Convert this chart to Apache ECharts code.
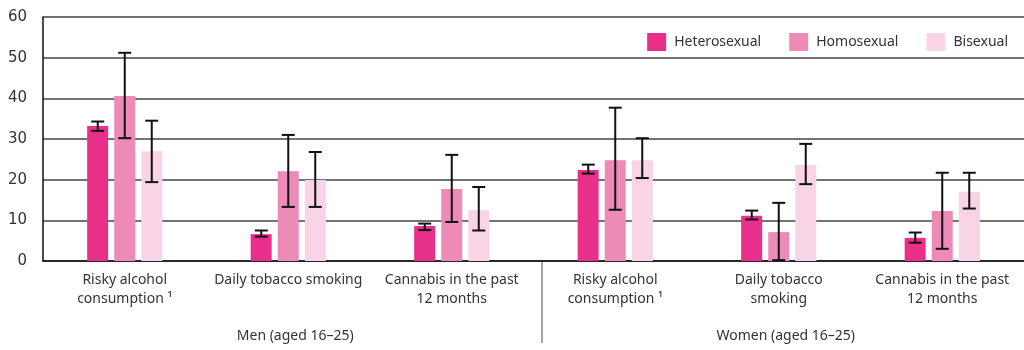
<!DOCTYPE html>
<html>
<head>
<meta charset="utf-8">
<script src="https://cdn.jsdelivr.net/npm/echarts@6/dist/echarts.min.js"></script>
<style>
  html, body { margin: 0; padding: 0; background: #fff; }
  #chart { width: 1024px; height: 350px; }
</style>
</head>
<body>
<div id="chart"></div>
<script>
const categories = ['Risky alcohol\nconsumption \u00b9', 'Daily tobacco smoking', 'Cannabis in the past\n12 months',
  'Risky alcohol\nconsumption \u00b9', 'Daily tobacco\nsmoking', 'Cannabis in the past\n12 months']
const groups = ['Men (aged 16\u201325)', 'Women (aged 16\u201325)']
const yTicks = [0, 10, 20, 30, 40, 50, 60]

const hetero = [33.2, 6.6, 8.6, 22.4, 11.1, 5.7]
const heteroLow = [32.0, 6.0, 7.6, 21.5, 10.2, 4.5]
const heteroHigh = [34.3, 7.5, 9.2, 23.7, 12.4, 7.0]

const homo = [40.6, 22.1, 17.7, 24.8, 7.1, 12.3]
const homoLow = [30.2, 13.3, 9.6, 12.6, 0.2, 3.0]
const homoHigh = [51.2, 31.0, 26.1, 37.7, 14.3, 21.7]

const bi = [27.0, 19.9, 12.5, 24.8, 23.6, 17.0]
const biLow = [19.4, 13.3, 7.5, 20.4, 18.9, 12.9]
const biHigh = [34.5, 26.8, 18.2, 30.2, 28.8, 21.7]

const colors = ['#e8308a', '#ee8ab6', '#f8d4e6']
const font = 'Noto Sans'

var chartDom = document.getElementById('chart')
var myChart = echarts.init(chartDom)

// error bar drawn next to its bar: offset is in pixels from the category centre
const errorSeries = (low, high, offset) => ({
  type: 'custom',
  xAxisIndex: 0,
  yAxisIndex: 0,
  z: 5,
  silent: true,
  data: low.map((v, i) => [i, v, high[i]]),
  renderItem: function (params, api) {
    const lo = api.coord([api.value(0), api.value(1)])
    const hi = api.coord([api.value(0), api.value(2)])
    const x = lo[0] + offset
    const cap = 6.5
    const style = { stroke: '#111', lineWidth: 2 }
    return {
      type: 'group',
      children: [
        { type: 'line', shape: { x1: x, y1: lo[1], x2: x, y2: hi[1] }, style: style },
        { type: 'line', shape: { x1: x - cap, y1: lo[1], x2: x + cap, y2: lo[1] }, style: style },
        { type: 'line', shape: { x1: x - cap, y1: hi[1], x2: x + cap, y2: hi[1] }, style: style }
      ]
    }
  }
})

var option = {
  animation: false,
  textStyle: { fontFamily: font },
  grid: { left: 43, top: 17, width: 984, height: 244 },
  legend: {
    data: ['Heterosexual', 'Homosexual', 'Bisexual'],
    right: 11,
    top: 28,
    width: 420,
    itemWidth: 19,
    itemHeight: 18,
    itemGap: 28,
    icon: 'rect',
    textStyle: { fontFamily: font, fontSize: 14, color: '#333', padding: [0, 0, 0, 3] }
  },
  xAxis: [
    {
      type: 'category',
      data: categories,
      axisLine: { show: true, lineStyle: { color: '#111', width: 1.5 } },
      axisTick: { show: false },
      axisLabel: { fontFamily: font, fontSize: 14, color: '#333', lineHeight: 19, margin: 10, interval: 0 }
    },
    {
      type: 'category',
      data: groups,
      position: 'bottom',
      offset: 68,
      axisLine: { show: false },
      axisTick: { show: false },
      axisLabel: { fontFamily: font, fontSize: 14, color: '#333', margin: 0, padding: [0, 0, 0, 14] }
    }
  ],
  yAxis: {
    type: 'value',
    min: yTicks[0],
    max: yTicks[yTicks.length - 1],
    interval: 10,
    axisLine: { show: true, lineStyle: { color: '#111', width: 1.5 } },
    axisTick: { show: false },
    axisLabel: { fontFamily: 'DejaVu Sans', fontSize: 15, color: '#333', margin: 16 },
    splitLine: { show: true, lineStyle: { color: '#444', width: 1.5 } }
  },
  graphic: [
    {
      type: 'line',
      shape: { x1: 542, y1: 262, x2: 542, y2: 343 },
      style: { stroke: '#888', lineWidth: 1.5 }
    }
  ],
  series: [
    { name: 'Heterosexual', type: 'bar', data: hetero, barWidth: 21, barGap: '29%', itemStyle: { color: colors[0] } },
    { name: 'Homosexual', type: 'bar', data: homo, barWidth: 21, barGap: '29%', itemStyle: { color: colors[1] } },
    { name: 'Bisexual', type: 'bar', data: bi, barWidth: 21, barGap: '29%', itemStyle: { color: colors[2] } },
    errorSeries(heteroLow, heteroHigh, -27),
    errorSeries(homoLow, homoHigh, 0),
    errorSeries(biLow, biHigh, 27)
  ]
}
option && myChart.setOption(option)
</script>
</body>
</html>
